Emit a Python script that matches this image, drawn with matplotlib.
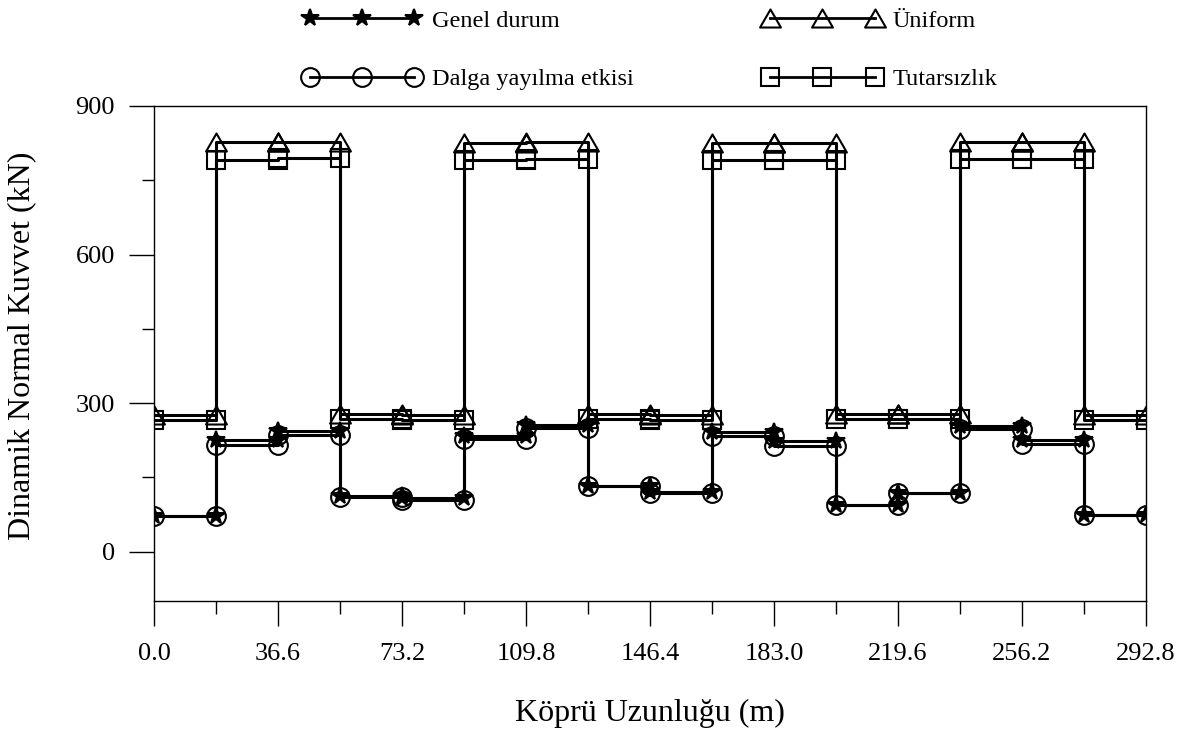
import numpy as np
import matplotlib
matplotlib.use("Agg")
import matplotlib.pyplot as plt
from matplotlib.ticker import FixedLocator
from matplotlib.path import Path

plt.rcParams['font.family'] = ['Liberation Serif', 'DejaVu Serif']

# ---- data ----
nodes = [0.0, 18.3, 36.6, 54.9, 73.2, 91.5, 109.8, 128.1, 146.4,
         164.7, 183.0, 201.3, 219.6, 237.9, 256.2, 274.5, 292.8]
xtick_vals = [0.0, 36.6, 73.2, 109.8, 146.4, 183.0, 219.6, 256.2, 292.8]
xtick_labels = ['0.0', '36.6', '73.2', '109.8', '146.4', '183.0', '219.6', '256.2', '292.8']

genel = [72, 226, 243, 112, 108, 233, 256, 133, 121, 241, 224, 94, 118, 253, 225, 74]
dalga = [72, 216, 235, 110, 105, 228, 250, 132, 119, 233, 213, 93, 119, 248, 218, 73]
uniform = [276, 828, 828, 277, 276, 826, 828, 277, 276, 826, 826, 277, 277, 827, 827, 276]
tutarsiz = [266, 791, 794, 267, 265, 790, 793, 267, 265, 791, 791, 267, 267, 792, 792, 266]

labels = ['Genel durum', 'Dalga yayılma etkisi', 'Üniform', 'Tutarsızlık']


def steps(vals):
    xs, ys = [], []
    for i, v in enumerate(vals):
        xs += [nodes[i], nodes[i + 1]]
        ys += [v, v]
    return xs, ys


tri = Path([(0, 0.866), (-1, -0.866), (1, -0.866), (0, 0.866)],
           [Path.MOVETO, Path.LINETO, Path.LINETO, Path.CLOSEPOLY])

fig = plt.figure(figsize=(11.9, 7.35), dpi=100)
ax = fig.add_axes([154 / 1190, 1 - 601 / 735, (1146 - 154) / 1190, (601 - 106) / 735])

lw = 2.2
common = dict(color='black', lw=lw, mec='black', mew=1.5)

x, y = steps(tutarsiz)
l4, = ax.plot(x, y, marker='s', ms=13.5, mfc='none', label=labels[3], **common)
x, y = steps(uniform)
l3, = ax.plot(x, y, marker=tri, ms=15, mfc='none', label=labels[2], **common)
x, y = steps(dalga)
l2, = ax.plot(x, y, marker='o', ms=13.5, mfc='none', label=labels[1], **common)
x, y = steps(genel)
l1, = ax.plot(x, y, marker='*', ms=13, mfc='black', label=labels[0], **common)

ax.set_xlim(nodes[0], nodes[-1])
ax.set_ylim(-100, 900)
ax.xaxis.set_major_locator(FixedLocator(xtick_vals))
ax.set_xticklabels(xtick_labels)
ax.xaxis.set_minor_locator(FixedLocator(nodes))
ax.yaxis.set_major_locator(FixedLocator([0, 300, 600, 900]))
ax.yaxis.set_minor_locator(FixedLocator([150, 450, 750]))

for s in ax.spines.values():
    s.set_linewidth(1.0)
ax.tick_params(which='major', direction='out', length=18, width=1.0, labelsize=19)
ax.tick_params(which='minor', direction='out', length=9, width=1.0)
ax.tick_params(axis='x', which='major', pad=12)
ax.tick_params(axis='y', which='major', pad=10)

ax.set_xlabel('Köprü Uzunluğu (m)', fontsize=23, labelpad=25)
ax.set_ylabel('Dinamik Normal Kuvvet (kN)', fontsize=23)
ax.yaxis.set_label_coords((36 - 154) / 992, 0.515)

leg = fig.legend([l1, l2, l3, l4], labels, loc='upper center',
                 bbox_to_anchor=(650 / 1190, 1.0), ncol=2, frameon=False,
                 fontsize=17.5, numpoints=3, handlelength=4.9, handletextpad=0.45,
                 columnspacing=5.3, labelspacing=1.5, borderaxespad=0.25,
                 borderpad=0.15)
for h in leg.legend_handles:
    h.set_linewidth(2.0)

fig.savefig('out.png', dpi=100)
